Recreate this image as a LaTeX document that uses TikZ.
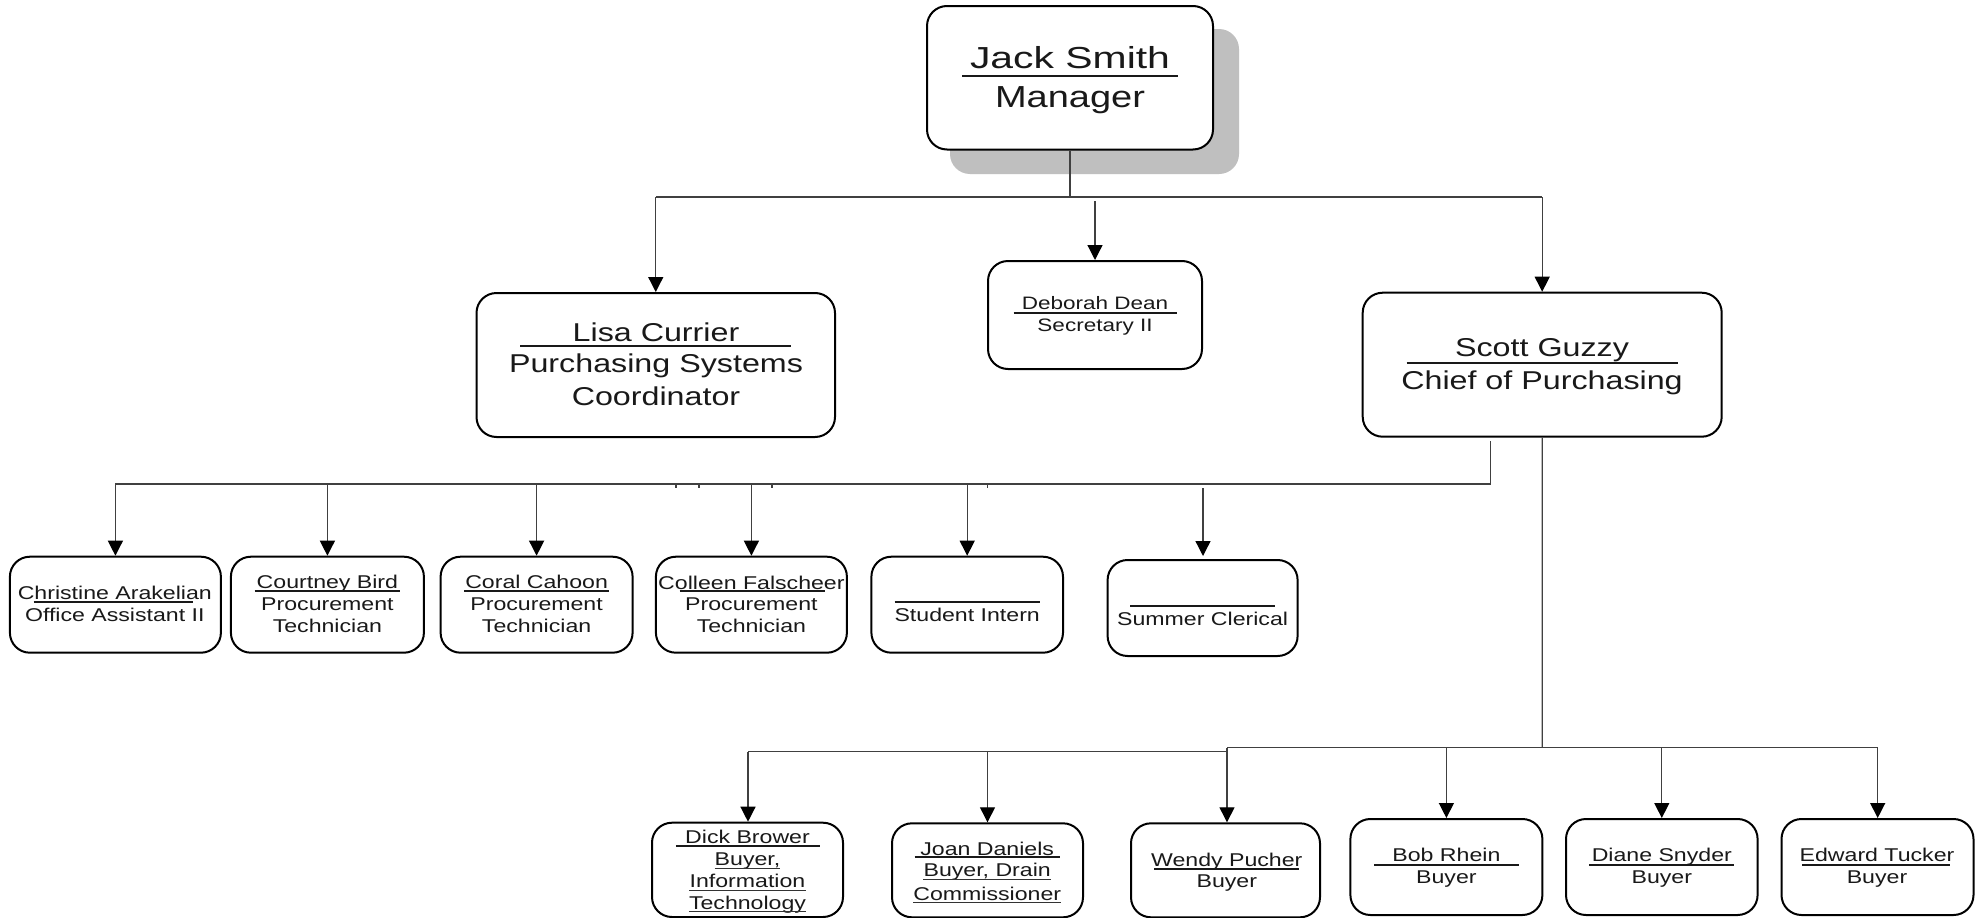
\documentclass[tikz,border=0pt]{standalone}
\usepackage{fontspec}
\setmainfont{Liberation Sans}[FakeStretch=1.25]
\newfontfamily\widefont{Liberation Sans}[FakeStretch=1.345]
\usetikzlibrary{arrows.meta}
\newcommand{\fbig}{\fontsize{30.4}{31}\selectfont}
\newcommand{\fbigw}{\widefont\fontsize{30.4}{31}\selectfont}
\newcommand{\fmid}{\fontsize{25.8}{27}\selectfont}
\newcommand{\fsml}{\fontsize{18.5}{19}\selectfont}
\newcommand{\fdeb}{\fontsize{18}{19}\selectfont}
\tikzset{
  box/.style={draw=black, line width=2pt, rounded corners=20pt, fill=white, inner sep=0pt},
  shadowbox/.style={fill=black!25, rounded corners=20pt, inner sep=0pt},
  conn/.style={draw=black!75, line width=1.3pt},
  arr/.style={conn, -{Triangle[length=15pt,width=15pt,color=black]}},
  txt/.style={inner sep=0pt, anchor=base, text=black!90},
  uline/.style={draw=black!90, line width=2pt},
  tline/.style={draw=black!80, line width=1.1pt},
}
\begin{document}
\begin{tikzpicture}[x=1pt,y=-1pt]
\useasboundingbox (0,0) rectangle (1982,918);
\fill[white] (0,0) rectangle (1982,918);

% ---------- boxes ----------
\node[shadowbox, minimum width=289pt, minimum height=145pt] (jackshadow) at (1094.5,101.5) {};
\node[box, minimum width=286pt, minimum height=143.5pt] (jack) at (1070,77.75) {};
\node[box, minimum width=358.5pt, minimum height=144pt] (lisa) at (655.75,365) {};
\node[box, minimum width=214pt, minimum height=108pt] (deborah) at (1095,315) {};
\node[box, minimum width=359pt, minimum height=144pt] (scott) at (1542.2,364.7) {};

\node[box, minimum width=211pt, minimum height=96pt] (christine) at (115.4,604.7) {};
\node[box, minimum width=193pt, minimum height=96pt] (courtney) at (327.4,604.7) {};
\node[box, minimum width=192pt, minimum height=96pt] (coral) at (536.6,604.7) {};
\node[box, minimum width=191pt, minimum height=96pt] (colleen) at (751.4,604.7) {};
\node[box, minimum width=191.6pt, minimum height=96pt] (student) at (967.2,604.7) {};
\node[box, minimum width=190pt, minimum height=96pt] (summer) at (1202.6,608) {};

\node[box, minimum width=191pt, minimum height=94.3pt] (dick) at (747.5,869.85) {};
\node[box, minimum width=191pt, minimum height=94pt] (joan) at (987.5,870.3) {};
\node[box, minimum width=189pt, minimum height=94pt] (wendy) at (1225.5,870.3) {};
\node[box, minimum width=192pt, minimum height=96pt] (bob) at (1446.4,867) {};
\node[box, minimum width=191.6pt, minimum height=96pt] (diane) at (1661.8,867) {};
\node[box, minimum width=192pt, minimum height=96pt] (edward) at (1877.5,867) {};

% ---------- texts ----------
\node[txt, font=\fbigw] (jack1) at (1070,68) {Jack Smith};
\draw[uline] (962,76) -- (1178,76);
\node[txt, font=\fbig] (jack2) at (1070,107) {Manager};

\node[txt, font=\fmid] (lisa1) at (656,341) {Lisa Currier};
\draw[uline] (520,345.7) -- (791,345.7);
\node[txt, font=\fmid] (lisa2) at (656,372.7) {Purchasing Systems};
\node[txt, font=\fmid] (lisa3) at (656,405) {Coordinator};

\node[txt, font=\fdeb] (deb1) at (1095,309.3) {Deborah Dean};
\draw[uline] (1013.6,312.7) -- (1176.8,312.7);
\node[txt, font=\fdeb] (deb2) at (1095,331.7) {Secretary II};

\node[txt, font=\fmid] (scott1) at (1542,356.7) {Scott Guzzy};
\draw[uline] (1406.7,362.7) -- (1677.7,362.7);
\node[txt, font=\fmid] (scott2) at (1542,389) {Chief of Purchasing};

\node[txt, font=\fsml] (chr1) at (114.8,599.3) {Christine Arakelian};
\draw[uline] (33.5,601.7) -- (193,601.7);
\node[txt, font=\fsml] (chr2) at (114.8,621) {Office Assistant II};

\node[txt, font=\fsml] (cou1) at (327.4,588) {Courtney Bird};
\draw[uline] (254.5,590.7) -- (400,590.7);
\node[txt, font=\fsml] (cou2) at (327.4,610.7) {Procurement};
\node[txt, font=\fsml] (cou3) at (327.4,632.3) {Technician};

\node[txt, font=\fsml] (cor1) at (536.6,588) {Coral Cahoon};
\draw[uline] (464,590.7) -- (608.5,590.7);
\node[txt, font=\fsml] (cor2) at (536.6,610.7) {Procurement};
\node[txt, font=\fsml] (cor3) at (536.6,632.3) {Technician};

\node[txt, font=\fsml] (col1) at (751.4,589) {Colleen Falscheer};
\draw[uline] (679.5,591) -- (824.5,591);
\node[txt, font=\fsml] (col2) at (751.4,610.7) {Procurement};
\node[txt, font=\fsml] (col3) at (751.4,632.3) {Technician};

\draw[uline] (894.6,602.3) -- (1039.7,602.3);
\node[txt, font=\fsml] (stu1) at (967.2,621.7) {Student Intern};

\draw[uline] (1130,605.7) -- (1275,605.7);
\node[txt, font=\fsml] (sum1) at (1202.6,625) {Summer Clerical};

\node[txt, font=\fsml] (dic1) at (747.5,843.3) {Dick Brower};
\draw[uline] (675.8,845.7) -- (820,845.7);
\node[txt, font=\fsml] (dic2) at (747.5,865.7) {Buyer,};
\node[txt, font=\fsml] (dic3) at (747.5,887.7) {Information};
\node[txt, font=\fsml] (dic4) at (747.5,909.3) {Technology};
\draw[tline] ([yshift=-2.5pt]dic2.base west) -- ([yshift=-2.5pt]dic2.base east);
\draw[tline] ([yshift=-2.5pt]dic3.base west) -- ([yshift=-2.5pt]dic3.base east);
\draw[tline] ([yshift=-2.5pt]dic4.base west) -- ([yshift=-2.5pt]dic4.base east);

\node[txt, font=\fsml] (joa1) at (987.2,855) {Joan Daniels};
\draw[uline] (914.6,857.3) -- (1059.7,857.3);
\node[txt, font=\fsml] (joa2) at (987.2,876.7) {Buyer, Drain};
\node[txt, font=\fsml] (joa3) at (987.2,900) {Commissioner};
\draw[tline] ([yshift=-2.5pt]joa2.base west) -- ([yshift=-2.5pt]joa2.base east);
\draw[tline] ([yshift=-2.5pt]joa3.base west) -- ([yshift=-2.5pt]joa3.base east);

\node[txt, font=\fsml] (wen1) at (1226.8,866) {Wendy Pucher};
\draw[uline] (1154.3,869) -- (1299.4,869);
\node[txt, font=\fsml] (wen2) at (1226.8,887.7) {Buyer};

\node[txt, font=\fsml] (bob1) at (1446.4,861.7) {Bob Rhein};
\draw[uline] (1374,865) -- (1518.8,865);
\node[txt, font=\fsml] (bob2) at (1446.4,883.3) {Buyer};

\node[txt, font=\fsml] (dia1) at (1661.8,861.7) {Diane Snyder};
\draw[uline] (1589.3,865) -- (1734,865);
\node[txt, font=\fsml] (dia2) at (1661.8,883.3) {Buyer};

\node[txt, font=\fsml] (edw1) at (1877,861.7) {Edward Tucker};
\draw[uline] (1802.4,865) -- (1950.3,865);
\node[txt, font=\fsml] (edw2) at (1877,883.3) {Buyer};

% ---------- connectors ----------
\coordinate (j1) at (1070,197);
\draw[conn] (jack.south) -- (j1);
\draw[conn] (j1 -| lisa.north) -- (j1 -| scott.north);
\draw[arr] (j1 -| lisa.north) -- (lisa.north);
\draw[arr] (j1 -| scott.north) -- (scott.north);
\coordinate (d0) at (1095,201);
\draw[arr] (d0) -- (deborah.north);

% Scott -> office staff
\coordinate (s0) at (1490.7,441);
\coordinate (s1) at (1490.7,484);
\coordinate (h0) at (115.4,484);
\draw[conn] (s0) -- (s1) -- (h0);
\draw[arr] (h0) -- (christine.north);
\draw[arr] (h0 -| courtney.north) -- (courtney.north);
\draw[arr] (h0 -| coral.north) -- (coral.north);
\draw[arr] (h0 -| colleen.north) -- (colleen.north);
\draw[arr] (h0 -| student.north) -- (student.north);
\foreach \tx in {676,699,772,987.5} \draw[conn] (\tx,484) -- (\tx,488);
\coordinate (sc0) at (1203,488.3);
\coordinate (sc1) at (1203,556);
\draw[arr] (sc0) -- (sc1);

% Scott -> buyers
\coordinate (b0) at (1542.3,747.7);
\draw[conn] (scott.south) -- (b0);
\coordinate (bl) at (1227,747.7);
\coordinate (br) at (1877.7,747.7);
\draw[conn] (bl) -- (br);
\coordinate (al) at (748,751.7);
\coordinate (ar) at (1227,751.7);
\draw[conn] (al) -- (ar) -- (bl);
\draw[arr] (al) -- (dick.north -| al);
\draw[arr] (al -| joan.north) -- (joan.north);
\draw[arr] (bl) -- (wendy.north -| bl);
\draw[arr] (bl -| bob.north) -- (bob.north);
\draw[arr] (bl -| diane.north) -- (diane.north);
\draw[arr] (br) -- (edward.north -| br);
\end{tikzpicture}
\end{document}
